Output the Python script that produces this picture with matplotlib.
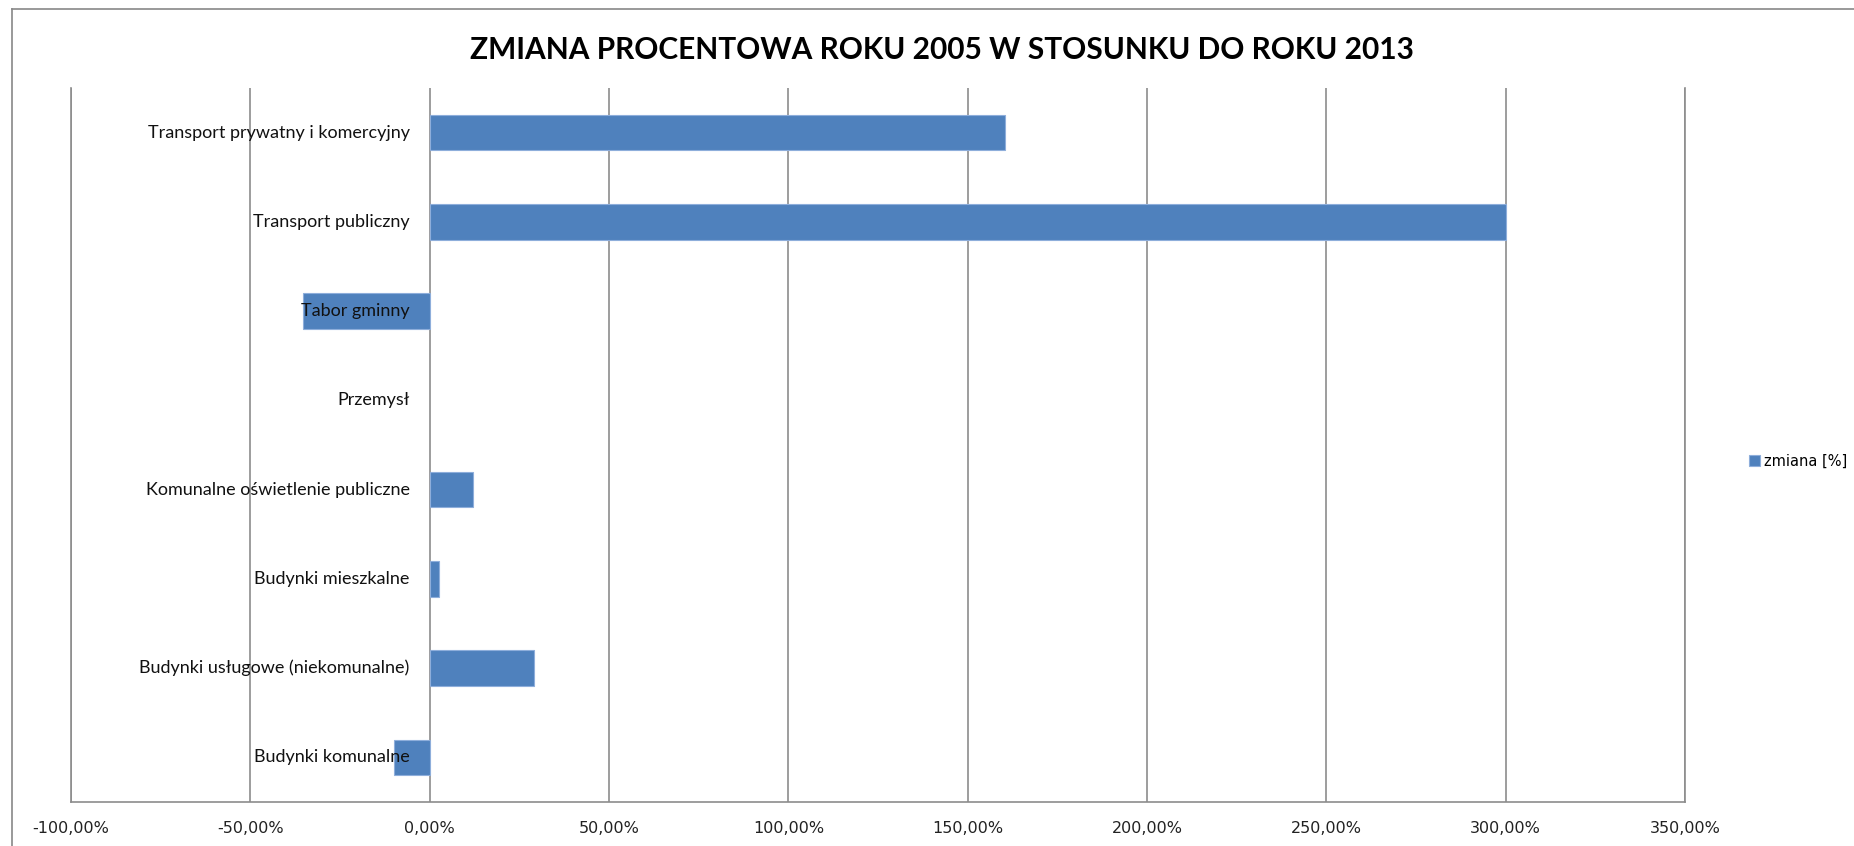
import matplotlib
matplotlib.use('Agg')
import matplotlib.pyplot as plt
from matplotlib.lines import Line2D
from matplotlib.ticker import FuncFormatter, MultipleLocator
from matplotlib.transforms import offset_copy

# data (bottom to top)
categories = [
    'Budynki komunalne',
    'Budynki usługowe (niekomunalne)',
    'Budynki mieszkalne',
    'Komunalne oświetlenie publiczne',
    'Przemysł',
    'Tabor gminny',
    'Transport publiczny',
    'Transport prywatny i komercyjny',
]
change_pct = [-9.9, 29.2, 2.6, 12.1, 0.0, -35.3, 300.0, 160.3]
series_name = 'zmiana [%]'
title = 'ZMIANA PROCENTOWA ROKU 2005 W STOSUNKU DO ROKU 2013'

bar_color = '#4F81BD'
grid_color = '#8c8c8c'

W, H = 1854, 846
fig = plt.figure(figsize=(W / 100, H / 100), dpi=100)
fig.patch.set_facecolor('white')

# plot area in pixels: x 71..1685, y 88..802
ax = fig.add_axes([71 / W, 1 - 802 / H, (1685 - 71) / W, (802 - 88) / H])

ypos = list(range(len(categories)))
bars = ax.barh(ypos, change_pct, height=0.4, color=bar_color,
               edgecolor='#8eaedb', linewidth=0.8, zorder=2, label=series_name)
# a zero-length bar shows nothing in the original
for b, v in zip(bars, change_pct):
    if v == 0:
        b.set_linewidth(0)

ax.set_xlim(-100, 350)
ax.set_ylim(-0.5, len(categories) - 0.5)
ax.xaxis.set_major_locator(MultipleLocator(50))
ax.xaxis.set_major_formatter(FuncFormatter(lambda v, p: f'{v:.2f}'.replace('.', ',') + '%'))
ax.grid(axis='x', color=grid_color, linewidth=1.2, zorder=0)
ax.set_axisbelow(True)
ax.set_yticks([])
ax.tick_params(axis='x', length=0, pad=14, labelsize=11.5, labelcolor='#222222')
for lbl in ax.get_xticklabels():
    lbl.set_fontfamily('DejaVu Sans')

ax.spines['top'].set_visible(False)
for side in ['left', 'right', 'bottom']:
    ax.spines[side].set_color(grid_color)
    ax.spines[side].set_linewidth(1.2)

# category labels sit next to the zero line, drawn over the bars
lab_tr = offset_copy(ax.transData, fig=fig, x=-20, y=0, units='dots')
for y, name in zip(ypos, categories):
    ax.text(0, y, name, transform=lab_tr, ha='right', va='center',
            fontsize=13, family=['Lato', 'DejaVu Sans'], color='#111111', zorder=5)

# title
fig.text(942 / W, 1 - 50 / H, title, ha='center', va='center',
         fontsize=21.5, fontweight='bold', family=['Lato', 'DejaVu Sans'], color='black')

# legend on the right
fig.legend(handles=[bars], labels=[series_name], loc='center left',
           bbox_to_anchor=(1749 / W, 1 - 461 / H), frameon=False,
           handlelength=0.75, handleheight=0.75, handletextpad=0.3,
           borderpad=0, borderaxespad=0, prop={'family': 'DejaVu Sans', 'size': 10.5})

# chart border (left and top edges visible)
fig.add_artist(Line2D([12 / W, 12 / W], [0, 1 - 9 / H], transform=fig.transFigure,
                      color='#888888', linewidth=1.2))
fig.add_artist(Line2D([12 / W, 1], [1 - 9 / H, 1 - 9 / H], transform=fig.transFigure,
                      color='#888888', linewidth=1.2))

fig.savefig('out.png', dpi=100)
